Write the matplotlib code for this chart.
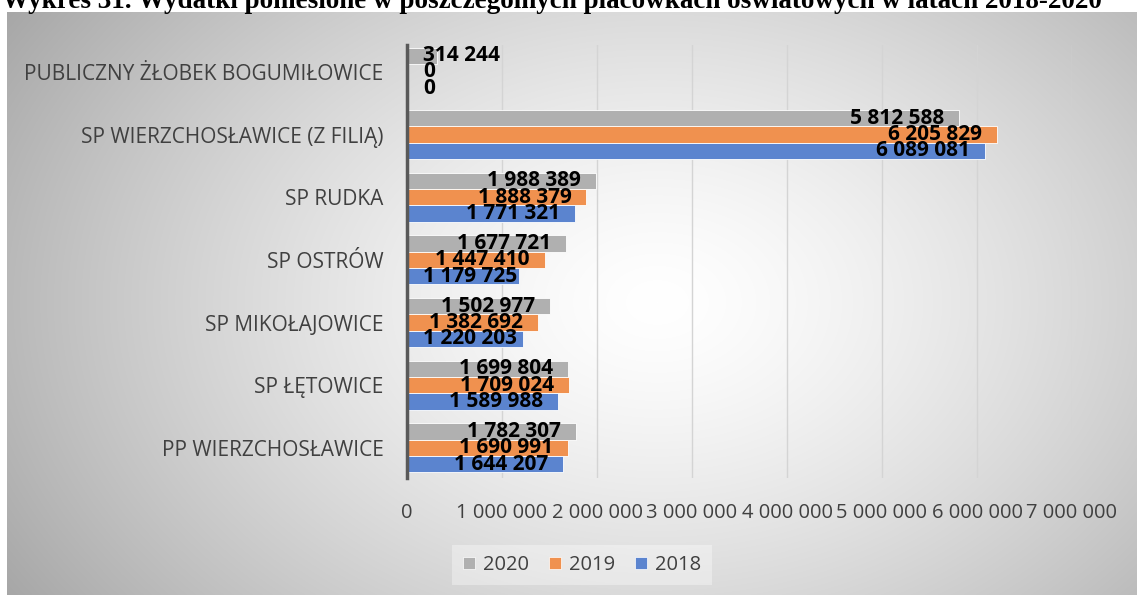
import numpy as np
import matplotlib.pyplot as plt
from matplotlib.patches import Patch
import matplotlib.transforms as mtransforms

# data, listed bottom to top as on the chart
categories = ["PP WIERZCHOSŁAWICE", "SP ŁĘTOWICE", "SP MIKOŁAJOWICE", "SP OSTRÓW",
	"SP RUDKA", "SP WIERZCHOSŁAWICE (Z FILIĄ)", "PUBLICZNY ŻŁOBEK BOGUMIŁOWICE"]
y2020 = [1782307, 1699804, 1502977, 1677721, 1988389, 5812588, 314244]
y2019 = [1690991, 1709024, 1382692, 1447410, 1888379, 6205829, 0]
y2018 = [1644207, 1589988, 1220203, 1179725, 1771321, 6089081, 0]
years = ["2020", "2019", "2018"]
x_ticks = [0, 1000000, 2000000, 3000000, 4000000, 5000000, 6000000, 7000000]

title = "Wykres 31. Wydatki poniesione w poszczególnych placówkach oświatowych w latach 2018-2020"
colors = ["#B0B0B0", "#F0914F", "#5B84CF"]
text_grey = "#404040"

W, H, DPI = 1137, 595, 100
fig = plt.figure(figsize=(W / DPI, H / DPI), dpi=DPI)
fig.patch.set_facecolor("white")

def fmt(v):
	return "{:,}".format(v).replace(",", " ")

# radial gradient background of the chart frame
bg = fig.add_axes([7 / W, 0, 1 - 7 / W, 1 - 12 / H], zorder=-5)
gx, gy = np.meshgrid(np.arange(1130), np.arange(583))
d = np.sqrt(((gx - 650) / 660.0) ** 2 + ((gy - 290) / 470.0) ** 2)
d = np.clip(d, 0, 1.3)
v = 1 - 0.28 * d ** 1.4
img = np.dstack([v, v, v])
bg.imshow(img, aspect="auto", interpolation="bilinear")
bg.set_axis_off()

# main plot area
ax = fig.add_axes([407 / W, 1 - 478 / H, 665 / W, 433 / H])
ax.patch.set_alpha(0)
pos = np.arange(len(categories))
h = 0.26
series = [y2020, y2019, y2018]
offs = [h, 0, -h]
for vals, off, c, lab in zip(series, offs, colors, years):
	ax.barh(pos + off, vals, height=h, color=c, edgecolor="white", linewidth=0.6, label=lab, zorder=2)

ax.set_xlim(0, 7000000)
ax.set_ylim(-0.48, 6.43)
ax.set_xticks(x_ticks)
ax.set_xticklabels([fmt(t) for t in x_ticks], fontsize=14.5, color=text_grey, fontfamily="Open Sans")
ax.set_yticks(pos)
ax.set_yticklabels(categories, fontsize=15, color=text_grey, fontfamily="Open Sans")
ax.tick_params(axis="x", length=0, pad=18)
ax.tick_params(axis="y", length=0, pad=17)
ax.grid(axis="x", color="#d4d4d4", linewidth=1, zorder=0)
ax.set_axisbelow(True)
for s in ["top", "right", "bottom"]:
	ax.spines[s].set_visible(False)
ax.spines["left"].set_color("#595959")
ax.spines["left"].set_linewidth(2.5)
ax.spines["left"].set_zorder(3)

# data labels: inside end, pushed to the axis when the bar is too short
fig.canvas.draw()
renderer = fig.canvas.get_renderer()
axis_px = ax.transData.transform((0, 0))[0]
for vals, off in zip(series, offs):
	for i, val in enumerate(vals):
		tr = mtransforms.offset_copy(ax.transData, fig=fig, x=-15, y=0, units="dots")
		t = ax.text(val, pos[i] + off, fmt(val), ha="right", va="center", fontsize=15,
			fontweight="bold", fontfamily="Open Sans", color="black", transform=tr, zorder=4)
		bb = t.get_window_extent(renderer)
		if bb.x0 < axis_px + 16:
			t.set_transform(mtransforms.offset_copy(ax.transData, fig=fig, x=16, y=0, units="dots"))
			t.set_x(0)
			t.set_ha("left")

handles = [Patch(facecolor=c, edgecolor="white", linewidth=0.5) for c in colors]
leg = fig.legend(handles, years, loc="center", bbox_to_anchor=(582 / W, 1 - 565 / H), ncol=3,
	handlelength=0.6, handleheight=0.6, handletextpad=0.4, columnspacing=1.0,
	prop={"family": "Open Sans", "size": 14.5}, frameon=True, fancybox=False, borderpad=0.5)
leg.get_frame().set_facecolor("white")
leg.get_frame().set_alpha(0.35)
leg.get_frame().set_edgecolor("none")
for t in leg.get_texts():
	t.set_color(text_grey)

fig.text(2 / W, 1 - 8 / H, title, ha="left", va="baseline", fontsize=19.5, fontweight="bold",
	fontfamily="Liberation Serif", color="black")

fig.savefig("out.png", dpi=DPI)
